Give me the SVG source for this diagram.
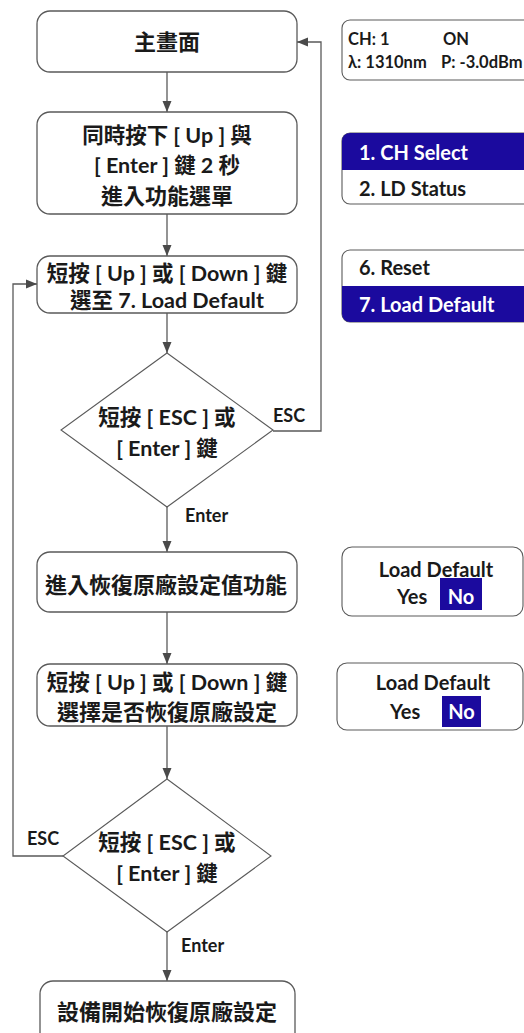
<svg xmlns="http://www.w3.org/2000/svg" width="524" height="1033" viewBox="0 0 524 1033">
<style>
.box{fill:#fff;stroke:#5a5a5a;stroke-width:1.3}
.dia{fill:#fff;stroke:#5a5a5a;stroke-width:1.1}
.pan{fill:#fff;stroke:#5a5a5a;stroke-width:1.1}
.blue{fill:#1b0a9e}
.t{font-family:Lato,"Noto Sans CJK TC",sans-serif;font-weight:bold;font-size:22px;fill:#1a1a1a;text-anchor:middle}
.m{font-size:21.5px}
.lb{font-family:Lato,"Noto Sans CJK TC",sans-serif;font-weight:bold;font-size:18px;fill:#1a1a1a}
.pt{font-family:Lato,"Noto Sans CJK TC",sans-serif;font-weight:bold;font-size:16.5px;fill:#1a1a1a}
.mt{font-family:Lato,"Noto Sans CJK TC",sans-serif;font-weight:bold;font-size:20px;fill:#1a1a1a}
.w{fill:#fff}
.c{text-anchor:middle}
.ln{fill:none;stroke:#5a5a5a;stroke-width:1.3}
</style>
<defs>
<marker id="ah" markerUnits="userSpaceOnUse" markerWidth="12" markerHeight="12" viewBox="0 0 12 12" refX="11" refY="6" orient="auto">
<path d="M0,1.5 L11,6 L0,10.5 Z" fill="#4a4a4a"/>
</marker>
</defs>
<g id="connectors">
<line class="ln" x1="167" y1="72" x2="167" y2="112" marker-end="url(#ah)"/>
<line class="ln" x1="167" y1="214" x2="167" y2="256" marker-end="url(#ah)"/>
<line class="ln" x1="167" y1="313" x2="167" y2="353" marker-end="url(#ah)"/>
<line class="ln" x1="167" y1="507" x2="167" y2="552" marker-end="url(#ah)"/>
<line class="ln" x1="167" y1="612" x2="167" y2="664" marker-end="url(#ah)"/>
<line class="ln" x1="167" y1="726" x2="167" y2="779" marker-end="url(#ah)"/>
<line class="ln" x1="167" y1="932" x2="167" y2="981" marker-end="url(#ah)"/>
<polyline class="ln" points="273,431 321,431 321,42 297,42" marker-end="url(#ah)"/>
<polyline class="ln" points="63,856 13,856 13,284 37,284" marker-end="url(#ah)"/>
<text class="lb" x="273" y="421.5">ESC</text>
<text class="lb" x="185" y="521.5">Enter</text>
<text class="lb" x="27" y="844.5">ESC</text>
<text class="lb" x="181" y="951.5">Enter</text>
</g>
<g id="n1">
<rect class="box" x="37" y="11" width="260" height="61" rx="13"/>
<text class="t" x="167" y="50">主畫面</text>
</g>
<g id="n2">
<rect class="box" x="37" y="112" width="260" height="102" rx="13"/>
<text class="t m" x="167" y="143">同時按下 [ Up ] 與</text>
<text class="t m" x="167" y="173">[ Enter ] 鍵 2 秒</text>
<text class="t" x="167" y="204">進入功能選單</text>
</g>
<g id="n3">
<rect class="box" x="37" y="256" width="260" height="57" rx="13"/>
<text class="t m" x="167" y="280.5">短按 [ Up ] 或 [ Down ] 鍵</text>
<text class="t m" x="167" y="307.5">選至 7. Load Default</text>
</g>
<g id="n4">
<polygon class="dia" points="167,353 273,430 167,507 61,430"/>
<text class="t m" x="167" y="424.5">短按 [ ESC ] 或</text>
<text class="t m" x="167" y="455.5">[ Enter ] 鍵</text>
</g>
<g id="n5">
<rect class="box" x="37" y="552" width="260" height="60" rx="13"/>
<text class="t" x="166" y="593">進入恢復原廠設定值功能</text>
</g>
<g id="n6">
<rect class="box" x="37" y="664" width="260" height="62" rx="13"/>
<text class="t m" x="167" y="689.5">短按 [ Up ] 或 [ Down ] 鍵</text>
<text class="t" x="167" y="720">選擇是否恢復原廠設定</text>
</g>
<g id="n7">
<polygon class="dia" points="167,779 271,856 167,932 63,856"/>
<text class="t m" x="167" y="849.5">短按 [ ESC ] 或</text>
<text class="t m" x="167" y="880.5">[ Enter ] 鍵</text>
</g>
<g id="n8">
<rect class="box" x="40" y="981" width="255" height="70" rx="13"/>
<text class="t" x="167" y="1020">設備開始恢復原廠設定</text>
</g>
<g id="p1">
<rect class="pan" x="342" y="20" width="200" height="60" rx="8"/>
<text class="pt" x="348" y="45">CH: 1</text>
<text class="pt" x="443" y="45">ON</text>
<text class="pt" x="348" y="68">λ: 1310nm</text>
<text class="pt" x="441" y="68">P: -3.0dBm</text>
</g>
<g id="p2">
<rect class="pan" x="342" y="133" width="200" height="71" rx="8"/>
<path class="blue" d="M342,170 V141 A8,8 0 0 1 350,133 H524 V170 Z"/>
<text class="mt w" x="359" y="160">1. CH Select</text>
<text class="mt" x="359" y="196">2. LD Status</text>
</g>
<g id="p3">
<rect class="pan" x="342" y="250" width="200" height="72" rx="8"/>
<path class="blue" d="M342,286 V314 A8,8 0 0 0 350,322 H524 V286 Z"/>
<text class="mt" x="359" y="275">6. Reset</text>
<text class="mt w" x="359" y="312">7. Load Default</text>
</g>
<g id="p4">
<rect class="pan" x="342" y="547" width="181" height="69" rx="10"/>
<text class="mt c" x="436" y="577">Load Default</text>
<text class="mt" x="397" y="604">Yes</text>
<rect class="blue" x="440" y="578" width="42" height="32"/>
<text class="mt w c" x="461" y="604">No</text>
</g>
<g id="p5">
<rect class="pan" x="337" y="663" width="186" height="67" rx="10"/>
<text class="mt c" x="433" y="690">Load Default</text>
<text class="mt" x="390" y="719">Yes</text>
<rect class="blue" x="442" y="696" width="39" height="31"/>
<text class="mt w c" x="461.5" y="719">No</text>
</g>
</svg>
